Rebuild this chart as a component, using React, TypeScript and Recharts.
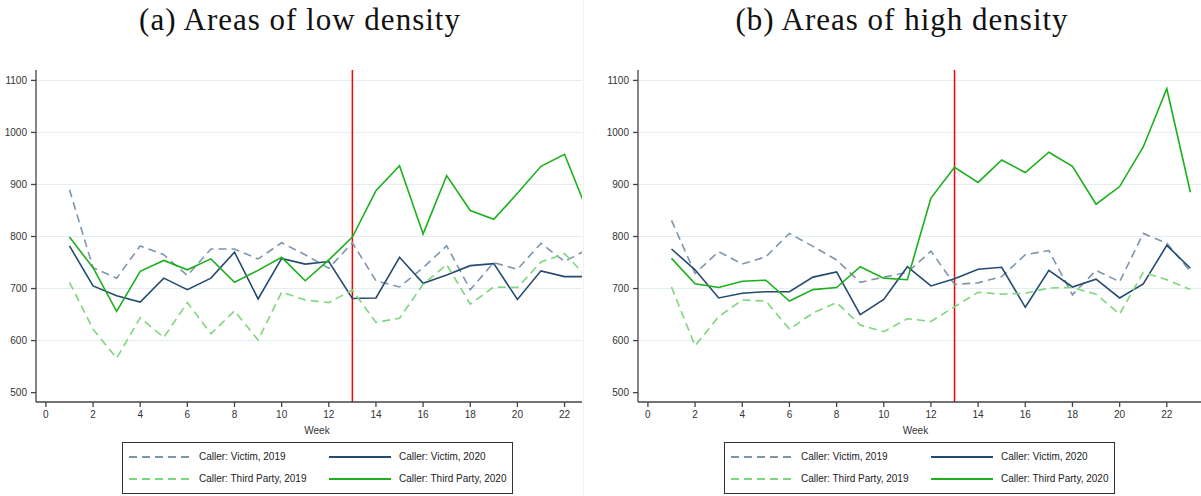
import React from "react";
import {
  LineChart,
  Line,
  XAxis,
  YAxis,
  CartesianGrid,
  ReferenceLine,
} from "recharts";

// weekly call counts, weeks 1-23
const weeks = [1, 2, 3, 4, 5, 6, 7, 8, 9, 10, 11, 12, 13, 14, 15, 16, 17, 18, 19, 20, 21, 22, 23];

// (a) low density areas
const lowVictim2019 = [890, 740, 720, 782, 765, 725, 776, 776, 757, 788, 765, 739, 788, 715, 703, 740, 782, 698, 750, 737, 787, 752, 776];
const lowVictim2020 = [782, 705, 686, 674, 720, 698, 720, 770, 680, 758, 747, 752, 681, 682, 760, 710, 726, 744, 748, 679, 734, 723, 723];
const lowThird2019 = [712, 622, 566, 644, 606, 673, 613, 657, 601, 693, 678, 673, 697, 635, 643, 708, 746, 670, 703, 702, 751, 767, 720];
const lowThird2020 = [799, 740, 656, 733, 754, 736, 757, 712, 735, 760, 715, 755, 799, 888, 936, 805, 917, 850, 833, 883, 935, 958, 845];

// (b) high density areas
const highVictim2019 = [831, 729, 771, 747, 761, 806, 781, 755, 712, 722, 731, 772, 708, 711, 723, 765, 773, 688, 735, 713, 806, 787, 733];
const highVictim2020 = [776, 736, 682, 691, 694, 694, 722, 732, 650, 679, 742, 705, 719, 737, 741, 664, 735, 703, 718, 682, 709, 783, 739];
const highThird2019 = [703, 590, 646, 678, 676, 622, 653, 673, 630, 617, 642, 637, 665, 693, 689, 691, 701, 702, 689, 651, 731, 717, 698];
const highThird2020 = [758, 709, 702, 714, 716, 676, 698, 702, 742, 720, 717, 874, 933, 904, 947, 923, 962, 935, 862, 896, 972, 1084, 885];

const xTicks = [0, 2, 4, 6, 8, 10, 12, 14, 16, 18, 20, 22];
const yTicks = [500, 600, 700, 800, 900, 1000, 1100];
const gridValues = [600, 700, 800, 900, 1000, 1100];
const lockdownWeek = 13;

const series = [
  { key: "victim2019", name: "Caller: Victim, 2019", color: "#7e95ae", dash: "8 5" },
  { key: "victim2020", name: "Caller: Victim, 2020", color: "#244b6e", dash: undefined },
  { key: "third2019", name: "Caller: Third Party, 2019", color: "#7dd67d", dash: "8 5" },
  { key: "third2020", name: "Caller: Third Party, 2020", color: "#1cb01c", dash: undefined },
];

const buildRows = (v19: number[], v20: number[], t19: number[], t20: number[]) =>
  weeks.map((week, i) => ({
    week,
    victim2019: v19[i],
    victim2020: v20[i],
    third2019: t19[i],
    third2020: t20[i],
  }));

const lowRows = buildRows(lowVictim2019, lowVictim2020, lowThird2019, lowThird2020);
const highRows = buildRows(highVictim2019, highVictim2020, highThird2019, highThird2020);

const sans = "Liberation Sans, Arial, sans-serif";
const tickStyle = { fontSize: 10, fill: "#333", fontFamily: sans };

const LegendBox = () => (
  <div
    style={{
      position: "absolute",
      left: 122,
      top: 442,
      width: 389,
      height: 50,
      border: "1px solid #333",
      background: "#fff",
      fontFamily: sans,
      fontSize: 10,
      color: "#222",
    }}
  >
    {series.map((s, i) => {
      const col = i % 2;
      const row = Math.floor(i / 2);
      const x = col === 0 ? 6 : 206;
      const y = row === 0 ? 14 : 36;
      return (
        <div key={s.key}>
          <svg width={62} height={4} style={{ position: "absolute", left: x, top: y - 2 }}>
            <line x1={0} y1={2} x2={62} y2={2} stroke={s.color} strokeWidth={2} strokeDasharray={s.dash} />
          </svg>
          <span
            style={{ position: "absolute", left: x + 70, top: y - 7, lineHeight: "14px", whiteSpace: "nowrap" }}
          >
            {s.name}
          </span>
        </div>
      );
    })}
  </div>
);

type PanelProps = {
  left: number;
  width: number;
  title: string;
  rows: typeof lowRows;
  xMax: number;
  weekDx: number;
};

const Panel = ({ left, width, title, rows, xMax, weekDx }: PanelProps) => (
  <div style={{ position: "absolute", left, top: 0, width, height: 496 }}>
    <div
      style={{
        position: "absolute",
        left: 0,
        top: 4,
        width: 600,
        textAlign: "center",
        fontFamily: "Liberation Serif, Times New Roman, serif",
        fontSize: 31,
        letterSpacing: 1,
        lineHeight: "31px",
        color: "#111",
      }}
    >
      {title}
    </div>
    <div style={{ position: "absolute", left: 0, top: 0 }}>
      <LineChart width={width} height={496} data={rows} margin={{ top: 70, right: 0, bottom: 62, left: 0 }}>
        <CartesianGrid vertical={false} horizontalValues={gridValues} stroke="#e3edf1" strokeWidth={1} />
        <XAxis
          dataKey="week"
          type="number"
          domain={[-0.42, xMax]}
          allowDataOverflow
          ticks={xTicks}
          interval={0}
          tick={tickStyle}
          tickSize={5}
          tickMargin={4}
          height={32}
          stroke="#444"
          strokeWidth={1.3}
          label={{ value: "Week", position: "insideBottom", offset: 0, dx: weekDx, style: tickStyle }}
        />
        <YAxis
          type="number"
          domain={[482, 1120]}
          allowDataOverflow
          ticks={yTicks}
          interval={0}
          tick={tickStyle}
          tickSize={5}
          tickMargin={4}
          width={36}
          stroke="#444"
          strokeWidth={1.3}
        />
        <ReferenceLine x={lockdownWeek} stroke="#ff0000" strokeWidth={1.5} />
        {series.map((s) => (
          <Line
            key={s.key}
            dataKey={s.key}
            name={s.name}
            stroke={s.color}
            strokeWidth={1.6}
            strokeDasharray={s.dash}
            dot={false}
            activeDot={false}
            type="linear"
            isAnimationActive={false}
          />
        ))}
      </LineChart>
    </div>
    <LegendBox />
  </div>
);

export default function App() {
  return (
    <div
      style={{
        position: "absolute",
        left: 0,
        top: 0,
        width: 1201,
        height: 496,
        background: "#fff",
        overflow: "hidden",
      }}
    >
      <Panel left={0} width={582} title="(a) Areas of low density" rows={lowRows} xMax={22.74} weekDx={8} />
      <div style={{ position: "absolute", left: 583, top: 0, width: 1, height: 496, background: "#f2f2f2" }} />
      <Panel left={602} width={599} title="(b) Areas of high density" rows={highRows} xMax={23.45} weekDx={-4} />
    </div>
  );
}
